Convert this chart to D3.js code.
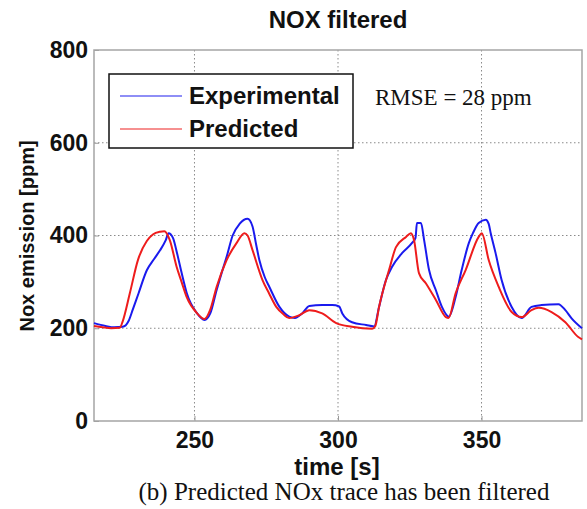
<!DOCTYPE html>
<html>
<head>
<meta charset="utf-8">
<script src="https://cdn.jsdelivr.net/npm/d3@7"></script>
<style>
  body { margin: 0; background: #fff; }
  svg { display: block; }
  .bold { font-family: "Liberation Sans", Arial, sans-serif; font-weight: bold; fill: #111; }
  .serif { font-family: "Liberation Serif", "Times New Roman", serif; fill: #111; }
</style>
</head>
<body>
<div id="chart"></div>
<script>
// experimental trace (time s, NOx ppm)
const expTime = [215, 219, 222, 225, 227, 228.5, 230.5, 233.4, 236, 238, 240, 241, 242.5, 244, 245.5, 247.3,
  250.8, 253.5, 255.5, 257.7, 259.5, 261.2, 263.3, 265.7, 268.5, 270.2, 271.5, 272.6, 274.5, 276.1, 279.6,
  283, 285, 287.5, 290, 294.5, 298, 300.4, 301.5, 304.9, 309.8, 312.6, 314.3, 316.7, 318.8, 322.3, 325.8,
  327, 327.5, 328.9, 330, 331.7, 334.1, 336.2, 338.6, 341, 343.1, 345.6, 347, 349, 351.5, 352.5, 353.2,
  354.9, 357, 360.5, 364, 367.4, 370.9, 376.8, 379.2, 381.3, 385];
const expNox = [211, 205, 202, 203, 215, 240, 275, 325, 350, 368, 390, 405, 395, 360, 320, 276,
  233, 218, 232, 282, 320, 354, 400, 425, 436, 420, 380, 347, 310, 289, 246,
  225, 222, 232, 248, 250, 250, 247, 232, 213, 207, 204, 246, 304, 332, 362, 384,
  395, 427, 427, 390, 326, 282, 246, 225, 268, 326, 384, 405, 427, 434, 425, 405,
  362, 304, 246, 222, 246, 250, 252, 239, 222, 200];

// predicted trace (time s, NOx ppm)
const predTime = [215, 218, 221, 224, 225, 227.5, 230.3, 233.4, 235.5, 238, 239.5, 241.4, 243.8, 245.5, 247.3,
  250.8, 253.5, 255.5, 257.7, 261.2, 264.7, 267.4, 268.5, 270.2, 273.7, 276, 278.5, 281, 283, 286.5, 290,
  294.5, 299.4, 304.9, 311.9, 313, 314.3, 317.8, 320.2, 323.7, 325.4, 326.5, 328.2, 330.6, 334.1, 337.6,
  338.5, 341, 344.5, 349, 350.1, 352.5, 356, 360.5, 364, 367.4, 369.9, 374.4, 379.2, 383.7, 385];
const predNox = [205, 202, 200, 201, 215, 276, 347, 388, 402, 408, 409, 390, 332, 300, 267,
  233, 220, 240, 289, 347, 384, 405, 400, 369, 304, 275, 246, 230, 222, 228, 239,
  232, 211, 203, 199, 205, 246, 326, 375, 397, 405, 390, 319, 297, 261, 224,
  222, 276, 326, 397, 405, 347, 289, 235, 224, 239, 244, 235, 213, 181, 176];

const xTicks = [250, 300, 350];
const yTicks = [0, 200, 400, 600, 800];
const seriesNames = ["Experimental", "Predicted"];
const seriesColors = ["#1a1aee", "#ee1c1c"];

const W = 587, H = 509;
const plot = { left: 94, right: 582, top: 50, bottom: 421 };

const svg = d3.select("#chart").append("svg").attr("width", W).attr("height", H);

const x = d3.scaleLinear().domain([215, 385]).range([plot.left, plot.right]);
const y = d3.scaleLinear().domain([0, 800]).range([plot.bottom, plot.top]);

// grid
const grid = svg.append("g").attr("stroke", "#8a8a8a").attr("stroke-width", 1).attr("stroke-dasharray", "1.5,2.5");
grid.selectAll(".gx").data(xTicks).join("line")
  .attr("x1", d => x(d)).attr("x2", d => x(d))
  .attr("y1", plot.top).attr("y2", plot.bottom);
grid.selectAll(".gy").data(yTicks.filter(d => d > 0 && d < 800)).join("line")
  .attr("x1", plot.left).attr("x2", plot.right)
  .attr("y1", d => y(d)).attr("y2", d => y(d));

// axes with ticks pointing inside
const xAxis = svg.append("g").attr("transform", `translate(0,${plot.bottom})`)
  .call(d3.axisBottom(x).tickValues(xTicks).tickSize(-5).tickPadding(12));
const yAxis = svg.append("g").attr("transform", `translate(${plot.left},0)`)
  .call(d3.axisLeft(y).tickValues(yTicks).tickSize(-5).tickPadding(6));
[xAxis, yAxis].forEach(a => {
  a.select(".domain").remove();
  a.selectAll(".tick line").attr("stroke", "#999");
  a.selectAll(".tick text").attr("class", "bold").style("font-size", "23px").attr("fill", "#111");
});
xAxis.selectAll(".tick text").attr("dy", "0.71em").attr("y", 11);

// plot frame
svg.append("rect")
  .attr("x", plot.left).attr("y", plot.top)
  .attr("width", plot.right - plot.left).attr("height", plot.bottom - plot.top)
  .attr("fill", "none").attr("stroke", "#a5a5a5").attr("stroke-width", 1.5);

// lines
const line = d3.line().curve(d3.curveMonotoneX).x(d => x(d[0])).y(d => y(d[1]));
const series = [
  d3.zip(expTime, expNox),
  d3.zip(predTime, predNox)
];
svg.append("g").selectAll("path").data(series).join("path")
  .attr("d", line)
  .attr("fill", "none")
  .attr("stroke", (d, i) => seriesColors[i])
  .attr("stroke-width", 2)
  .attr("stroke-linejoin", "round");

// legend
const lg = svg.append("g");
lg.append("rect").attr("x", 109).attr("y", 74).attr("width", 244).attr("height", 74)
  .attr("fill", "#fff").attr("stroke", "#111").attr("stroke-width", 1.5);
seriesNames.forEach((name, i) => {
  const cy = 96 + i * 33;
  lg.append("line").attr("x1", 120).attr("x2", 182).attr("y1", cy).attr("y2", cy)
    .attr("stroke", seriesColors[i]).attr("stroke-width", 1.5).attr("opacity", 0.65);
  lg.append("text").attr("class", "bold").attr("x", 189).attr("y", cy + 8)
    .style("font-size", "24px").text(name);
});

svg.append("text").attr("class", "serif").attr("x", 375).attr("y", 105)
  .style("font-size", "23px").text("RMSE = 28 ppm");

// title and labels
svg.append("text").attr("class", "bold").attr("x", 338).attr("y", 28)
  .attr("text-anchor", "middle").style("font-size", "24px").text("NOX filtered");
svg.append("text").attr("class", "bold").attr("x", 337).attr("y", 475)
  .attr("text-anchor", "middle").style("font-size", "24px").text("time [s]");
svg.append("text").attr("class", "bold")
  .attr("transform", `translate(34,236) rotate(-90)`)
  .attr("text-anchor", "middle").style("font-size", "20px").text("Nox emission [ppm]");
svg.append("text").attr("class", "serif").attr("x", 344).attr("y", 500)
  .attr("text-anchor", "middle").style("font-size", "25px").text("(b) Predicted NOx trace has been filtered");
</script>
</body>
</html>
